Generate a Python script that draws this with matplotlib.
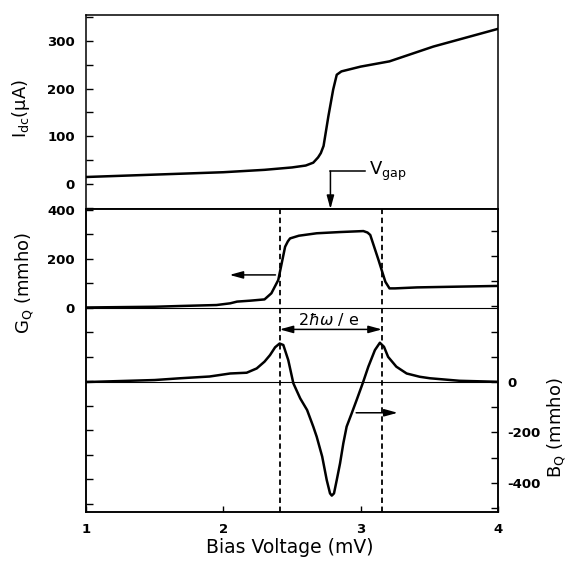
import matplotlib
matplotlib.use('Agg')
import matplotlib.pyplot as plt
from matplotlib.ticker import MultipleLocator, FixedLocator, FuncFormatter

plt.rcParams['font.family'] = ['DejaVu Sans']
plt.rcParams['mathtext.fontset'] = 'dejavusans'

# dc current (uA) vs bias (mV)
v_idc = [1.0, 1.5, 2.0, 2.3, 2.5, 2.6, 2.655, 2.69, 2.71, 2.73, 2.765, 2.80,
         2.826, 2.86, 3.0, 3.21, 3.53, 4.0]
i_dc = [15, 20, 25, 30, 35, 39, 45, 56, 65, 80, 142, 198,
        229, 236, 246, 257, 288, 325]

# quantum conductance G_Q (mmho)
v_g = [1.0, 1.5, 1.68, 1.95, 2.05, 2.10, 2.20, 2.30, 2.35, 2.40, 2.425, 2.45,
       2.47, 2.486, 2.55, 2.68, 2.85, 3.02, 3.05, 3.07, 3.13, 3.18, 3.21,
       3.25, 3.41, 3.7, 4.0]
g_q = [2, 5, 8, 12, 19, 26, 30, 35, 60, 114, 182, 250,
       272, 284, 295, 305, 310, 314, 308, 298, 196, 107, 80,
       80, 84, 87, 90]

# quantum susceptance B_Q (mmho)
v_b = [1.0, 1.5, 1.685, 1.9, 2.05, 2.17, 2.243, 2.30, 2.34, 2.377, 2.41,
       2.437, 2.473, 2.51, 2.56, 2.61, 2.655, 2.68, 2.72, 2.753, 2.777, 2.79,
       2.806, 2.826, 2.85, 2.874, 2.898, 2.935, 2.971, 3.015, 3.056, 3.104,
       3.14, 3.17, 3.20, 3.26, 3.335, 3.43, 3.505, 3.72, 4.0]
b_q = [0, 8, 15, 22, 34, 37, 54, 81, 107, 138, 153,
       147, 87, -5, -65, -111, -177, -217, -296, -389, -442, -451,
       -442, -389, -323, -243, -177, -124, -71, -5, 61, 127,
       156, 140, 100, 61, 34, 21, 15, 5, 1]

v_photon = [2.41, 3.155]   # dashed markers, 2*hbar*omega/e apart
v_gap = 2.78

fig = plt.figure(figsize=(5.71, 5.66), dpi=100)
ax_i = fig.add_axes([0.1506, 0.6307, 0.7215, 0.3428])
ax_g = fig.add_axes([0.1506, 0.0954, 0.7215, 0.5353])
ax_b = ax_g.twinx()

lw = 1.8
tfs = 9.5

# top panel
ax_i.plot(v_idc, i_dc, color='black', lw=lw)
ax_i.set_xlim(1, 4)
ax_i.set_ylim(-52, 354)
ax_i.set_xticks([])
ax_i.yaxis.set_major_locator(FixedLocator([0, 100, 200, 300]))
ax_i.yaxis.set_minor_locator(MultipleLocator(50))
ax_i.tick_params(axis='y', which='both', direction='in', length=5, width=1,
                 pad=8, right=False)
for t in ax_i.get_yticklabels():
    t.set_fontsize(tfs)
    t.set_fontweight('bold')

# lower panel: G_Q on left, B_Q on right
ax_g.plot(v_g, g_q, color='black', lw=lw)
ax_g.axhline(0, color='black', lw=0.8)
ax_g.set_xlim(1, 4)
ax_g.set_ylim(-833, 404)
ax_g.yaxis.set_major_locator(MultipleLocator(100))
ax_g.yaxis.set_major_formatter(FuncFormatter(
    lambda y, p: f'{y:.0f}' if y in (0, 200, 400) else ''))
ax_g.tick_params(axis='y', direction='in', length=5, width=1, pad=8)
ax_g.set_xticks([1, 2, 3, 4])
ax_g.set_xticklabels(['1', '2', '3', '4'])
ax_g.tick_params(axis='x', direction='in', length=4, width=1, pad=8)
for t in ax_g.get_yticklabels() + ax_g.get_xticklabels():
    t.set_fontsize(tfs)
    t.set_fontweight('bold')

ax_b.plot(v_b, b_q, color='black', lw=lw)
ax_b.axhline(0, color='black', lw=0.8)
ax_b.set_ylim(-516, 687)
ax_b.yaxis.set_major_locator(MultipleLocator(100))
ax_b.yaxis.set_major_formatter(FuncFormatter(
    lambda y, p: f'{y:.0f}' if y in (0, -200, -400) else ''))
ax_b.tick_params(axis='y', direction='in', length=5, width=1, pad=7)
for t in ax_b.get_yticklabels():
    t.set_fontsize(tfs)
    t.set_fontweight('bold')

for ax in (ax_i, ax_g, ax_b):
    for s in ax.spines.values():
        s.set_linewidth(1.1)

for v in v_photon:
    ax_g.axvline(v, color='black', lw=1.3, ls=(0, (3, 2)))

# arrows pointing to the axes
ax_g.annotate('', xy=(2.025, 135), xytext=(2.40, 135),
              arrowprops=dict(arrowstyle='-|>,head_length=0.8,head_width=0.22',
                              color='black', lw=1.1))
ax_b.annotate('', xy=(3.29, -122), xytext=(2.947, -122),
              arrowprops=dict(arrowstyle='-|>,head_length=0.8,head_width=0.22',
                              color='black', lw=1.1))

# 2 hbar omega / e span
ax_b.annotate('', xy=(v_photon[0], 209), xytext=(v_photon[1], 209),
              arrowprops=dict(arrowstyle='<|-|>,head_length=0.8,head_width=0.22',
                              color='black', lw=1.1, shrinkA=0, shrinkB=0))
ax_b.text(2.77, 248, r'2$\hbar\omega$ / e', ha='center', va='center',
          fontsize=11.5)

# V_gap marker
ax_i.plot([v_gap, 3.03], [27, 27], color='black', lw=1.1)
ax_i.annotate('', xy=(v_gap, -52), xytext=(v_gap, 27),
              arrowprops=dict(arrowstyle='-|>,head_length=0.8,head_width=0.22',
                              color='black', lw=1.1, shrinkA=0, shrinkB=0),
              annotation_clip=False)
ax_i.text(3.06, 27, r'V$_{\mathregular{gap}}$', ha='left', va='center',
          fontsize=13)

fig.text(0.036, 0.809, r'I$_{\mathregular{dc}}$(μA)', rotation=90,
         ha='center', va='center', fontsize=13)
fig.text(0.044, 0.50, r'G$_{\mathregular{Q}}$ (mmho)', rotation=90,
         ha='center', va='center', fontsize=13)
fig.text(0.975, 0.245, r'B$_{\mathregular{Q}}$ (mmho)', rotation=90,
         ha='center', va='center', fontsize=13)
fig.text(0.508, 0.032, 'Bias Voltage (mV)', ha='center', va='center',
         fontsize=13.5)

fig.savefig('out.png', dpi=100)
